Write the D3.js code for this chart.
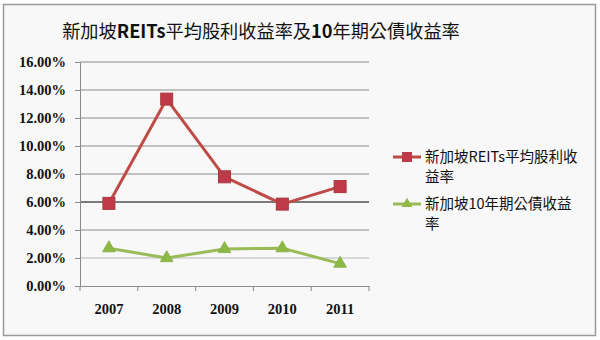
<!DOCTYPE html>
<html>
<head>
<meta charset="utf-8">
<script src="https://cdn.jsdelivr.net/npm/d3@7"></script>
<style>
  html, body { margin: 0; padding: 0; background: #ffffff; }
  svg { display: block; }
</style>
</head>
<body>
<svg id="chart" width="600" height="340"></svg>
<script>
// Years along the category axis
const years = ["2007", "2008", "2009", "2010", "2011"];
// Singapore REITs average dividend yield (%)
const reitYield = [5.9, 13.35, 7.8, 5.85, 7.1];
// Singapore 10-year government bond yield (%)
const bondYield = [2.7, 2.0, 2.65, 2.7, 1.6];
// Value-axis ticks (%)
const yTicks = [0, 2, 4, 6, 8, 10, 12, 14, 16];
// Legend labels, each split over two lines
const seriesNames = [["新加坡REITs平均股利收", "益率"], ["新加坡10年期公債收益", "率"]];
// Title pieces: Latin runs are set in bold
const titleParts = [["新加坡", false], ["REITs", true], ["平均股利收益率及", false], ["10", true], ["年期公債收益率", false]];

const svg = d3.select("#chart");
const W = 600, H = 340;
const plot = { left: 80, right: 369, top: 62, bottom: 286 };

// Outer frame
svg.append("rect").attr("x", 0).attr("y", 0).attr("width", W).attr("height", H).attr("fill", "#ffffff");
svg.append("rect")
  .attr("x", 3.5).attr("y", 4.5).attr("width", 592).attr("height", 331)
  .attr("fill", "#f8f8f8").attr("stroke", "#9a9a9a").attr("stroke-width", 1.5);

// Title
const title = svg.append("text")
  .attr("x", 261).attr("y", 38)
  .attr("text-anchor", "middle")
  .attr("font-family", "'Liberation Sans Narrow', 'Noto Sans CJK TC', sans-serif")
  .attr("font-size", 18.2)
  .attr("fill", "#111");
titleParts.forEach(([s, b]) => {
  title.append("tspan").attr("font-weight", b ? "bold" : "normal").text(s);
});

const x = d3.scaleBand().domain(years).range([plot.left, plot.right]).padding(0);
const y = d3.scaleLinear().domain([0, 16]).range([plot.bottom, plot.top]);

// Horizontal gridlines
svg.append("g").selectAll("line")
  .data(yTicks.filter(t => t > 0))
  .join("line")
  .attr("x1", plot.left).attr("x2", plot.right)
  .attr("y1", d => y(d)).attr("y2", d => y(d))
  .attr("stroke", d => d === 6 ? "#7a7a7a" : (d === 2 ? "#b8b8b8" : "#8a8a8a"))
  .attr("stroke-width", d => d === 6 ? 2.2 : 1);

// Value axis
const yAxis = svg.append("g")
  .attr("transform", `translate(${plot.left},0)`)
  .call(d3.axisLeft(y).tickValues(yTicks).tickSize(5).tickPadding(9)
    .tickFormat(d => d3.format(".2f")(d) + "%"));
yAxis.select(".domain").attr("stroke", "#8a8a8a");
yAxis.selectAll(".tick line").attr("stroke", "#8a8a8a");
yAxis.selectAll("text")
  .attr("font-family", "'Liberation Serif', serif")
  .attr("font-weight", "bold")
  .attr("font-size", 14.5)
  .attr("fill", "#111");

// Category axis
const xAxis = svg.append("g")
  .attr("transform", `translate(0,${plot.bottom})`)
  .call(d3.axisBottom(x).tickSize(0).tickPadding(18));
xAxis.select(".domain").attr("stroke", "#8a8a8a");
xAxis.selectAll("text")
  .attr("font-family", "'Liberation Serif', serif")
  .attr("font-weight", "bold")
  .attr("font-size", 14.5)
  .attr("fill", "#111");
// Tick marks on category boundaries
svg.append("g").selectAll("line")
  .data(years.concat(["end"]))
  .join("line")
  .attr("x1", (d, i) => plot.left + i * x.bandwidth())
  .attr("x2", (d, i) => plot.left + i * x.bandwidth())
  .attr("y1", plot.bottom).attr("y2", plot.bottom + 5)
  .attr("stroke", "#8a8a8a");

const cx = d => x(d) + x.bandwidth() / 2;
const line = d3.line().x((d, i) => cx(years[i])).y(d => y(d));

const red = "#be4b48", redFill = "#c0394a";
const green = "#9bbb59", greenFill = "#8db844";

// REITs series
svg.append("path").datum(reitYield)
  .attr("d", line).attr("fill", "none")
  .attr("stroke", red).attr("stroke-width", 3).attr("stroke-linejoin", "round");
svg.append("g").selectAll("rect")
  .data(reitYield)
  .join("rect")
  .attr("x", (d, i) => cx(years[i]) - 6).attr("y", d => y(d) - 6)
  .attr("width", 12).attr("height", 12)
  .attr("fill", redFill).attr("stroke", "#a83a3e").attr("stroke-width", 1);

// Bond series
svg.append("path").datum(bondYield)
  .attr("d", line).attr("fill", "none")
  .attr("stroke", green).attr("stroke-width", 3).attr("stroke-linejoin", "round");
const tri = d3.symbol().type(d3.symbolTriangle).size(70);
svg.append("g").selectAll("path")
  .data(bondYield)
  .join("path")
  .attr("d", tri)
  .attr("transform", (d, i) => `translate(${cx(years[i])},${y(d)})`)
  .attr("fill", greenFill).attr("stroke", "#86ad45").attr("stroke-width", 0.8);

// Legend
const legend = svg.append("g");
const legendRows = [
  { name: seriesNames[0], color: red, fill: redFill, marker: "square", y: 157 },
  { name: seriesNames[1], color: green, fill: greenFill, marker: "triangle", y: 204 }
];
legendRows.forEach(r => {
  legend.append("line")
    .attr("x1", 393).attr("x2", 421).attr("y1", r.y).attr("y2", r.y)
    .attr("stroke", r.color).attr("stroke-width", 3);
  if (r.marker === "square") {
    legend.append("rect").attr("x", 402).attr("y", r.y - 5).attr("width", 10).attr("height", 10)
      .attr("fill", r.fill);
  } else {
    legend.append("path").attr("d", d3.symbol().type(d3.symbolTriangle).size(50))
      .attr("transform", `translate(407,${r.y})`).attr("fill", r.fill);
  }
  const t = legend.append("text")
    .attr("font-family", "'Liberation Sans Narrow', 'Noto Sans CJK TC', sans-serif")
    .attr("font-size", 14.5)
    .attr("fill", "#111");
  r.name.forEach((s, k) => {
    t.append("tspan").attr("x", 425).attr("y", r.y + 5 + k * 20).text(s);
  });
});
</script>
</body>
</html>
